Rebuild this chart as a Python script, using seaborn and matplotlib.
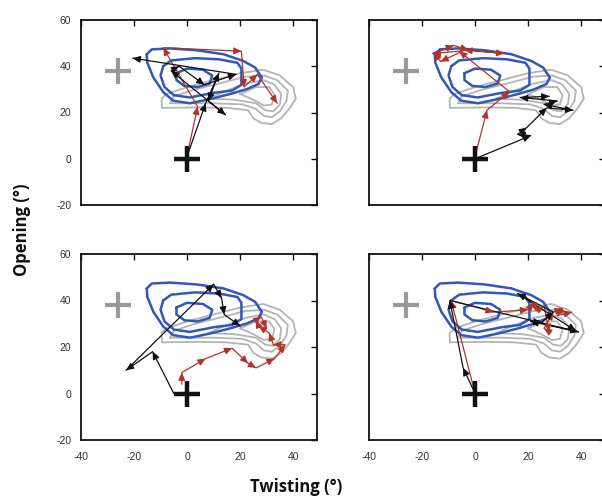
import numpy as np
import pandas as pd
import matplotlib
matplotlib.use("Agg")
import matplotlib.pyplot as plt
import seaborn as sns

# ---------------- data ----------------
x_ticks = [-40, -20, 0, 20, 40]
y_ticks = [-20, 0, 20, 40, 60]
x_tick_labels = ["-40", "-20", "0", "20", "40"]
y_tick_labels = ["-20", "0", "20", "40", "60"]

# reference density contours (blue: reference ensemble, gray: second ensemble)
blue_outer_x = [-15.2, -13.3, -6.4, 3.7, 13.7, 21.2, 25.7, 28.2, 26.9, 22.5, 16.2, 8.7, 1.1, -5.2, -8.9, -12.7, -15.0, -15.2]
blue_outer_y = [45.2, 47.3, 47.7, 46.9, 45.2, 42.3, 39.4, 35.1, 32.3, 30.1, 28.0, 25.8, 24.0, 25.1, 28.7, 35.1, 41.6, 45.2]
blue_mid_x = [-9.0, -6.0, 3.0, 12.0, 19.0, 20.5, 20.5, 17.0, 10.0, 1.0, -5.0, -8.5, -10.0, -9.0]
blue_mid_y = [40.0, 42.5, 43.5, 43.0, 41.5, 39.0, 32.0, 29.5, 28.5, 26.5, 27.5, 31.0, 36.0, 40.0]
blue_in_x = [-4.0, 0.0, 6.0, 9.5, 8.5, 4.0, -1.0, -4.0, -4.0]
blue_in_y = [37.0, 39.0, 38.5, 36.0, 32.5, 31.0, 31.5, 34.0, 37.0]

gray_1_x = [-7.7, 0.0, 10.0, 20.0, 28.8, 35.0, 40.0, 41.0, 38.5, 35.5, 32.0, 28.0, 25.0, 23.0, 15.0, 5.0, -9.5, -9.6, -7.7]
gray_1_y = [28.0, 31.0, 34.0, 37.0, 38.5, 36.0, 31.0, 26.0, 21.5, 17.5, 15.0, 15.5, 17.5, 21.0, 22.0, 22.2, 22.0, 26.0, 28.0]
gray_2_x = [-6.5, -5.0, 3.0, 12.0, 22.0, 29.0, 34.0, 38.0, 37.5, 35.0, 32.0, 29.0, 26.0, 21.0, 10.0, 0.0, -6.5]
gray_2_y = [24.0, 27.0, 30.0, 32.5, 35.5, 36.0, 34.0, 29.5, 25.0, 20.5, 18.0, 18.5, 21.5, 23.5, 24.0, 24.0, 24.0]
gray_3_x = [8.0, 14.0, 22.0, 29.0, 33.0, 35.5, 35.0, 32.5, 29.5, 26.0, 18.0, 8.0]
gray_3_y = [26.0, 29.0, 32.5, 34.0, 32.0, 28.0, 23.5, 20.5, 21.0, 24.0, 25.5, 26.0]
gray_4_x = [20.0, 26.0, 31.0, 33.0, 32.0, 29.0, 25.0, 20.0]
gray_4_y = [28.0, 31.0, 31.0, 27.5, 23.5, 23.0, 25.5, 28.0]

# reference points
start_x, start_y = [0.0], [0.0]
target_x, target_y = [-26.0], [38.0]

# trajectories per panel (red and black)
red_1_x = [0.5, 4.0, -9.0, 20.5, 21.5, 26.5, 34.0]
red_1_y = [4.0, 22.5, 48.0, 46.5, 31.0, 36.5, 24.0]
black_1_x = [0.0, 7.0, 12.0, 8.0, 14.5, -6.0, -3.0, 6.5, 18.5, -20.5]
black_1_y = [1.0, 24.0, 37.0, 25.0, 19.0, 38.0, 40.0, 32.0, 36.5, 43.5]

red_2_x = [0.0, 4.5, 13.0, -6.0, -16.0, -8.0, -2.5, 11.0, -4.0, -13.0, -15.5]
red_2_y = [1.0, 21.0, 29.0, 46.5, 45.5, 49.0, 47.0, 45.5, 47.0, 42.0, 46.0]
black_2_x = [0.0, 21.0, 16.0, 19.5, 27.0, 37.0, 26.0, 31.0, 17.0, 28.0]
black_2_y = [0.0, 10.0, 10.5, 13.5, 22.0, 21.0, 23.5, 25.0, 26.5, 27.0]

red_3_x = [-2.0, -2.0, 7.0, 17.0, 23.0, 26.0, 33.0, 37.0, 32.5, 31.0, 27.0, 26.0, 28.0, 30.0]
red_3_y = [4.0, 9.0, 15.0, 19.5, 13.0, 11.0, 15.0, 21.0, 21.0, 26.0, 29.0, 31.5, 33.0, 28.0]
black_3_x = [-5.0, -13.0, -23.0, 10.0, 13.0, 14.0, 20.0]
black_3_y = [0.0, 18.0, 10.0, 47.0, 41.0, 34.0, 29.0]

red_4_x = [0.0, -9.0, 7.0, 20.0, 22.0, 23.0, 26.0, 28.0, 26.0, 29.5, 33.0, 31.0, 36.5]
red_4_y = [0.0, 40.0, 35.0, 36.0, 39.0, 35.5, 37.5, 26.5, 28.0, 35.0, 36.5, 33.5, 35.0]
black_4_x = [0.0, -4.5, -9.5, 39.0, 21.0, 25.0, 29.5, 16.0, 38.0]
black_4_y = [0.0, 11.0, 40.0, 26.5, 31.0, 30.5, 35.0, 43.0, 27.0]

panels = [
    (red_1_x, red_1_y, black_1_x, black_1_y),
    (red_2_x, red_2_y, black_2_x, black_2_y),
    (red_3_x, red_3_y, black_3_x, black_3_y),
    (red_4_x, red_4_y, black_4_x, black_4_y),
]

# ---------------- style ----------------
sns.set_style("white")
plt.rcParams["font.family"] = ["Liberation Sans", "DejaVu Sans"]

BLUE = "#3157b8"
GRAY = "#b4b4b4"
RED = "#b0342a"
BLACK = "#111111"

fig = plt.figure(figsize=(6.02, 5.03), dpi=100)

W, H = 602.0, 503.0
pw = 236.0
ph_top = 185.0
ph_bot = 186.0
rects = [
    (81.0, 20.0, pw, ph_top),
    (369.0, 20.0, pw, ph_top),
    (81.0, 254.0, pw, ph_bot),
    (369.0, 254.0, pw, ph_bot),
]

contours_blue = [(blue_outer_x, blue_outer_y), (blue_mid_x, blue_mid_y), (blue_in_x, blue_in_y)]
contours_gray = [(gray_1_x, gray_1_y), (gray_2_x, gray_2_y), (gray_3_x, gray_3_y), (gray_4_x, gray_4_y)]


def draw_path(ax, xs, ys, color, lw):
    df = pd.DataFrame({"x": xs, "y": ys, "o": np.arange(len(xs))})
    sns.lineplot(data=df, x="x", y="y", sort=False, estimator=None, ax=ax,
                 color=color, lw=lw, zorder=4)
    for i in range(1, len(xs)):
        x0, y0, x1, y1 = xs[i - 1], ys[i - 1], xs[i], ys[i]
        d = np.hypot(x1 - x0, y1 - y0)
        if d == 0:
            continue
        f = max(0.0, 1 - 2.5 / d)
        ax.annotate("", xy=(x1, y1), xytext=(x0 + f * (x1 - x0), y0 + f * (y1 - y0)),
                    arrowprops=dict(arrowstyle="-|>,head_length=0.55,head_width=0.25",
                                    color=color, lw=lw, shrinkA=0, shrinkB=0,
                                    mutation_scale=8), zorder=5)


for k, (l, t, w, h) in enumerate(rects):
    ax = fig.add_axes([l / W, 1 - (t + h) / H, w / W, h / H])
    for cx, cy in contours_gray:
        sns.lineplot(x=cx, y=cy, sort=False, estimator=None, ax=ax, color=GRAY, lw=1.3, zorder=2)
    for cx, cy in contours_blue:
        sns.lineplot(x=cx, y=cy, sort=False, estimator=None, ax=ax, color=BLUE, lw=1.8, zorder=3)
    rx, ry, bx, by = panels[k]
    draw_path(ax, rx, ry, RED, 0.9)
    draw_path(ax, bx, by, BLACK, 0.9)
    sns.scatterplot(x=target_x, y=target_y, ax=ax, marker="+", s=330, color="#9a9a9a",
                    linewidth=3.0, zorder=6)
    sns.scatterplot(x=start_x, y=start_y, ax=ax, marker="+", s=330, color=BLACK,
                    linewidth=3.2, zorder=7)
    ax.set_xlim(-40, 49)
    ax.set_ylim(-20, 60)
    ax.set_xticks(x_ticks)
    ax.set_yticks(y_ticks)
    ax.set_xlabel("")
    ax.set_ylabel("")
    ax.tick_params(direction="in", length=4, width=1.0, top=True, right=True,
                   colors=BLACK, labelcolor="#333333", labelsize=7.5)
    ax.tick_params(axis="x", pad=9)
    ax.tick_params(axis="y", pad=7)
    if k in (0, 2):
        ax.set_yticklabels(y_tick_labels)
    else:
        ax.set_yticklabels([])
    if k in (2, 3):
        ax.set_xticklabels(x_tick_labels)
    else:
        ax.set_xticklabels([])
    for s in ax.spines.values():
        s.set_visible(True)
        s.set_linewidth(1.3)
        s.set_color(BLACK)
    if ax.get_legend():
        ax.get_legend().remove()

fig.text(22 / W, 1 - 230 / H, "Opening (°)", rotation=90, ha="center", va="center",
         fontsize=12, fontweight="bold", family=["Open Sans", "DejaVu Sans"], color="#111111")
fig.text(296 / W, 1 - 487 / H, "Twisting (°)", ha="center", va="center",
         fontsize=12, fontweight="bold", family=["Open Sans", "DejaVu Sans"], color="#111111")

fig.savefig("out.png", dpi=100)
